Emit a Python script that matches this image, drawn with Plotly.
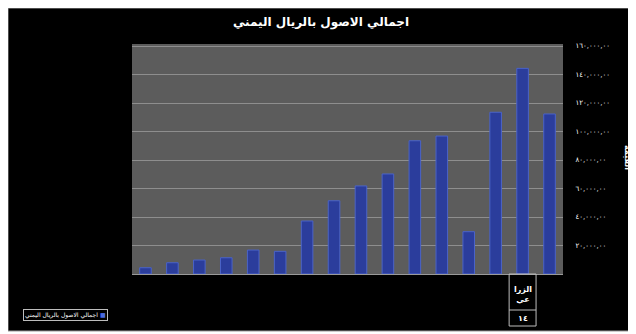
import plotly.graph_objects as go

# ---- data ----
categories = [str(i) for i in range(1, 17)]
values = [4400, 7900, 9800, 11400, 16800, 15900, 37200, 51400,
          61800, 70200, 93500, 96800, 29700, 113500, 144300, 112300]
series_name = "اجمالي الاصول بالريال اليمني"
title_text = "اجمالي الاصول بالريال اليمني"
tick_values = [20000, 40000, 60000, 80000, 100000, 120000, 140000, 160000]
table_index = 14  # position of the category that has the table cell
table_header = "الزرا<br>عي"
table_value = "١٤"
axis_title = "القيمة"

AR = str.maketrans("0123456789", "٠١٢٣٤٥٦٧٨٩")
tick_text = [f"{v:,}.00".replace(".", ",").translate(AR) for v in tick_values]

# page has an 8px body margin, so the figure is offset by (8, 8) on screen
OFF = 8
W, H = 636 - OFF, 334 - OFF
L, R, T, B = 132 - OFF, 73, 44 - OFF, 60
PW, PH = W - L - R, H - T - B


def px_x(p):  # screen px -> paper x
    return (p - OFF - L) / PW


def px_y(p):  # screen px -> paper y
    return (H - B - (p - OFF)) / PH


fig = go.Figure()
fig.add_trace(go.Bar(
    x=categories, y=values, name=series_name,
    marker=dict(color="#2b3d9c", line=dict(color="#4a63c8", width=1)),
    showlegend=False,
))

shapes = [
    dict(type="rect", xref="paper", yref="paper",
         x0=px_x(8), x1=px_x(640), y0=px_y(331), y1=px_y(8),
         fillcolor="black", line=dict(color="#9a9a9a", width=1), layer="below"),
    dict(type="rect", xref="paper", yref="paper", x0=0, x1=1, y0=0, y1=1,
         fillcolor="#5c5c5c", line=dict(width=0), layer="below"),
    dict(type="rect", xref="x", yref="paper", x0=table_index - 0.5, x1=table_index + 0.5,
         y0=px_y(326), y1=0, line=dict(color="#bdbdbd", width=1)),
    dict(type="line", xref="x", yref="paper", x0=table_index - 0.5, x1=table_index + 0.5,
         y0=px_y(310), y1=px_y(310), line=dict(color="#bdbdbd", width=1)),
]

annotations = [
    dict(text="<b>" + table_header + "</b>", xref="x", yref="paper", x=table_index,
         y=px_y(294), xanchor="center", yanchor="middle", showarrow=False,
         font=dict(color="white", size=8, family="DejaVu Sans")),
    dict(text="<b>" + table_value + "</b>", xref="x", yref="paper", x=table_index,
         y=px_y(318), xanchor="center", yanchor="middle", showarrow=False,
         font=dict(color="white", size=8, family="DejaVu Sans")),
    dict(text=series_name + " <span style='color:#4a6ae0'>■</span>",
         xref="paper", yref="paper", x=px_x(65), y=px_y(315),
         xanchor="center", yanchor="middle",
         showarrow=False, font=dict(color="white", size=6, family="DejaVu Sans"),
         bordercolor="#bdbdbd", borderwidth=1, borderpad=1),
    dict(text="<b>" + axis_title + "</b>", xref="paper", yref="paper", x=px_x(628),
         y=px_y(157), xanchor="center", yanchor="middle", showarrow=False,
         textangle=90, font=dict(color="white", size=8, family="DejaVu Sans")),
]

fig.update_layout(
    width=W, height=H,
    margin=dict(l=L, r=R, t=T, b=B),
    paper_bgcolor="white",
    plot_bgcolor="#5c5c5c",
    bargap=0.57,
    title=dict(text="<b>" + title_text + "</b>", x=(321 - OFF) / W, xref="container",
               xanchor="center", y=1 - (22 - OFF) / H, yanchor="middle",
               font=dict(color="white", size=12, family="DejaVu Sans")),
    xaxis=dict(showticklabels=False, showgrid=False, ticks="",
               showline=True, linecolor="#9a9a9a", linewidth=1),
    yaxis=dict(side="right", range=[0, 161400], tickvals=tick_values,
               ticktext=tick_text, showgrid=True, gridcolor="#8e8e8e",
               gridwidth=1, zeroline=False, ticks="outside", ticklen=10,
               tickcolor="rgba(0,0,0,0)",
               tickfont=dict(color="white", size=7, family="DejaVu Sans")),
    shapes=shapes,
    annotations=annotations,
)

fig.write_html("out.html")
